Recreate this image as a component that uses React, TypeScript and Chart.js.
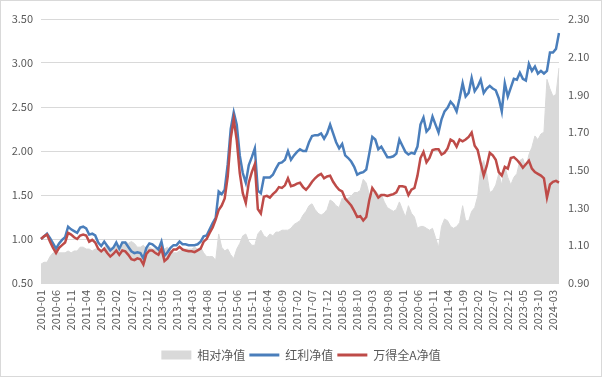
import React, { useEffect, useRef } from 'react';
import { Chart, registerables } from 'chart.js';

Chart.register(...registerables);

// Categories: monthly, 2010-01 .. 2024-05
const FIRST_YEAR = 2010;
const MONTH_COUNT = 173;
const months: string[] = [];
for (let i = 0; i < MONTH_COUNT; i++) {
  const y = FIRST_YEAR + Math.floor(i / 12);
  const m = (i % 12) + 1;
  months.push(`${y}-${m < 10 ? '0' + m : m}`);
}

const seriesNames = ['相对净值', '红利净值', '万得全A净值'];

// 红利净值 (left axis)
const dividendNav = [
  1.00, 1.03, 1.06, 1.01, 0.95, 0.89, 0.95, 0.99, 1.02, 1.14,
  1.11, 1.09, 1.07, 1.13, 1.14, 1.12, 1.05, 1.06, 1.04, 0.96,
  0.92, 0.97, 0.92, 0.87, 0.90, 0.96, 0.89, 0.96, 0.96, 0.91,
  0.86, 0.84, 0.85, 0.84, 0.78, 0.90, 0.95, 0.94, 0.91, 0.88,
  0.97, 0.81, 0.85, 0.90, 0.93, 0.93, 0.97, 0.94, 0.94, 0.93,
  0.93, 0.93, 0.94, 0.97, 1.03, 1.04, 1.11, 1.18, 1.24, 1.54,
  1.51, 1.56, 1.85, 2.25, 2.44, 2.30, 1.95, 1.75, 1.64, 1.84,
  1.93, 2.03, 1.55, 1.52, 1.70, 1.70, 1.70, 1.73, 1.80, 1.86,
  1.87, 1.90, 2.00, 1.90, 1.95, 1.99, 2.02, 2.00, 2.00, 2.10,
  2.17, 2.18, 2.18, 2.20, 2.14, 2.20, 2.30, 2.20, 2.10, 2.03,
  2.08, 1.95, 1.92, 1.88, 1.82, 1.73, 1.75, 1.76, 1.79, 1.97,
  2.16, 2.13, 2.02, 2.05, 1.99, 1.93, 1.93, 1.94, 1.97, 2.13,
  2.06, 1.99, 1.96, 1.98, 1.97, 2.05, 2.30, 2.38, 2.22, 2.26,
  2.39, 2.30, 2.21, 2.36, 2.45, 2.49, 2.56, 2.52, 2.45, 2.60,
  2.77, 2.62, 2.66, 2.83, 2.68, 2.73, 2.81, 2.66, 2.71, 2.74,
  2.71, 2.69, 2.60, 2.45, 2.77, 2.62, 2.72, 2.82, 2.81, 2.89,
  2.82, 2.80, 2.99, 2.91, 2.96, 2.88, 2.91, 2.88, 2.91, 3.12,
  3.12, 3.16, 3.34,
];

// 万得全A净值 (left axis)
const windANav = [
  1.00, 1.03, 1.05, 0.97, 0.90, 0.84, 0.90, 0.93, 0.96, 1.07,
  1.05, 1.02, 1.00, 1.04, 1.05, 1.04, 0.97, 0.99, 0.96, 0.89,
  0.86, 0.89, 0.84, 0.80, 0.83, 0.87, 0.82, 0.87, 0.86, 0.82,
  0.77, 0.76, 0.78, 0.77, 0.71, 0.83, 0.87, 0.87, 0.84, 0.82,
  0.89, 0.75, 0.78, 0.84, 0.88, 0.88, 0.91, 0.88, 0.87, 0.86,
  0.86, 0.85, 0.87, 0.89, 0.97, 1.00, 1.07, 1.13, 1.22, 1.33,
  1.38, 1.46, 1.71, 2.14, 2.36, 2.12, 1.75, 1.52, 1.41, 1.64,
  1.76, 1.85, 1.34, 1.29, 1.48, 1.49, 1.47, 1.51, 1.54, 1.59,
  1.58, 1.61, 1.69, 1.60, 1.61, 1.63, 1.64, 1.59, 1.56, 1.60,
  1.65, 1.69, 1.72, 1.74, 1.69, 1.71, 1.72, 1.65, 1.60, 1.56,
  1.54, 1.46, 1.42, 1.38, 1.32, 1.25, 1.26, 1.21, 1.25, 1.44,
  1.58, 1.53, 1.47, 1.50, 1.50, 1.49, 1.50, 1.51, 1.53, 1.60,
  1.60, 1.59, 1.50, 1.56, 1.58, 1.72, 1.92, 1.99, 1.87, 1.92,
  2.01, 2.02, 2.02, 1.96, 1.98, 2.03, 2.13, 2.11, 2.05, 2.13,
  2.11, 2.13, 2.16, 2.21, 2.06, 2.01, 1.86, 1.72, 1.83, 1.98,
  1.95, 1.90, 1.76, 1.72, 1.82, 1.80, 1.92, 1.93, 1.90, 1.86,
  1.81, 1.85, 1.89, 1.80, 1.76, 1.74, 1.72, 1.69, 1.47, 1.62,
  1.65, 1.66, 1.64,
];

// 相对净值 (right axis)
const relativeNav = [
  1.00, 1.01, 1.01, 1.04, 1.06, 1.06, 1.06, 1.06, 1.06, 1.07,
  1.06, 1.07, 1.07, 1.09, 1.09, 1.08, 1.08, 1.07, 1.08, 1.08,
  1.07, 1.09, 1.10, 1.09, 1.08, 1.10, 1.09, 1.10, 1.12, 1.11,
  1.12, 1.11, 1.09, 1.09, 1.10, 1.08, 1.09, 1.08, 1.08, 1.07,
  1.09, 1.08, 1.09, 1.07, 1.06, 1.06, 1.07, 1.07, 1.08, 1.08,
  1.08, 1.09, 1.08, 1.09, 1.06, 1.04, 1.04, 1.04, 1.02, 1.16,
  1.09, 1.07, 1.08, 1.05, 1.03, 1.08, 1.11, 1.15, 1.16, 1.12,
  1.10, 1.10, 1.16, 1.18, 1.15, 1.14, 1.16, 1.15, 1.17, 1.17,
  1.18, 1.18, 1.18, 1.19, 1.21, 1.22, 1.23, 1.26, 1.28, 1.31,
  1.32, 1.29, 1.27, 1.26, 1.27, 1.29, 1.34, 1.33, 1.31, 1.30,
  1.35, 1.34, 1.35, 1.36, 1.38, 1.38, 1.39, 1.45, 1.43, 1.37,
  1.37, 1.39, 1.37, 1.37, 1.33, 1.30, 1.29, 1.28, 1.29, 1.33,
  1.29, 1.25, 1.31, 1.27, 1.25, 1.19, 1.20, 1.20, 1.19, 1.18,
  1.19, 1.14, 1.09, 1.20, 1.24, 1.23, 1.20, 1.19, 1.20, 1.22,
  1.31, 1.23, 1.23, 1.28, 1.30, 1.36, 1.51, 1.55, 1.48, 1.38,
  1.39, 1.42, 1.48, 1.42, 1.52, 1.46, 1.42, 1.46, 1.48, 1.55,
  1.56, 1.51, 1.58, 1.62, 1.68, 1.66, 1.69, 1.70, 1.98, 1.93,
  1.89, 1.90, 2.04,
];

const FONT = '"Noto Sans CJK SC", "Noto Sans", sans-serif';
const TEXT_COLOR = '#595959';
const GRID_COLOR = '#d9d9d9';
const AREA_COLOR = '#d9d9d9';
const BLUE = '#4a7ebb';
const RED = '#be4b48';

export default function App() {
  const canvasRef = useRef<HTMLCanvasElement | null>(null);

  useEffect(() => {
    const canvas = canvasRef.current;
    if (!canvas) return;
    const chart = new Chart(canvas, {
      type: 'line',
      data: {
        labels: months,
        datasets: [
          {
            label: seriesNames[0],
            data: relativeNav,
            yAxisID: 'y1',
            fill: 'start',
            backgroundColor: AREA_COLOR,
            borderColor: AREA_COLOR,
            borderWidth: 1,
            pointRadius: 0,
            tension: 0,
            order: 3,
          },
          {
            label: seriesNames[1],
            data: dividendNav,
            yAxisID: 'y',
            fill: false,
            borderColor: BLUE,
            backgroundColor: BLUE,
            borderWidth: 2.5,
            pointRadius: 0,
            tension: 0,
            order: 2,
          },
          {
            label: seriesNames[2],
            data: windANav,
            yAxisID: 'y',
            fill: false,
            borderColor: RED,
            backgroundColor: RED,
            borderWidth: 2.5,
            pointRadius: 0,
            tension: 0,
            order: 1,
          },
        ],
      },
      options: {
        animation: false,
        responsive: false,
        devicePixelRatio: 1,
        layout: { padding: { top: 19, bottom: 6, left: 0, right: 0 } },
        plugins: {
          tooltip: { enabled: false },
          legend: {
            position: 'bottom',
            labels: {
              usePointStyle: true,
              pointStyleWidth: 30,
              boxHeight: 9,
              padding: 4,
              color: TEXT_COLOR,
              font: { family: FONT, size: 12 },
              sort: (a: any, b: any) => a.datasetIndex - b.datasetIndex,
              generateLabels: (c: any) =>
                c.data.datasets.map((ds: any, i: number) => ({
                  text: ds.label,
                  datasetIndex: i,
                  fillStyle: i === 0 ? AREA_COLOR : ds.borderColor,
                  strokeStyle: i === 0 ? AREA_COLOR : ds.borderColor,
                  lineWidth: i === 0 ? 0 : 3,
                  pointStyle: i === 0 ? 'rect' : 'line',
                  hidden: false,
                  fontColor: TEXT_COLOR,
                })),
            },
          },
        },
        scales: {
          x: {
            type: 'category',
            offset: false,
            grid: { display: false, drawTicks: false },
            border: { display: false },
            afterFit: (s: any) => {
              s.height = 62;
            },
            ticks: {
              autoSkip: false,
              minRotation: 90,
              maxRotation: 90,
              padding: 7,
              color: TEXT_COLOR,
              font: { family: FONT, size: 11 },
              callback: (_v: any, i: number) => (i % 5 === 0 ? months[i] : null),
            },
          },
          y: {
            type: 'linear',
            position: 'left',
            min: 0.5,
            max: 3.5,
            grid: { color: GRID_COLOR, lineWidth: 1, drawTicks: false },
            border: { display: false },
            afterFit: (s: any) => {
              s.width = 41;
            },
            ticks: {
              stepSize: 0.5,
              padding: 8,
              color: TEXT_COLOR,
              font: { family: FONT, size: 11 },
              callback: (v: any) => Number(v).toFixed(2),
            },
          },
          y1: {
            type: 'linear',
            position: 'right',
            min: 0.9,
            max: 2.3,
            grid: { display: false, drawTicks: false },
            border: { display: false },
            afterFit: (s: any) => {
              s.width = 43;
            },
            ticks: {
              stepSize: 0.2,
              padding: 9,
              color: TEXT_COLOR,
              font: { family: FONT, size: 11 },
              callback: (v: any) => Number(v).toFixed(2),
            },
          },
        },
      },
    });
    return () => chart.destroy();
  }, []);

  return (
    <div
      style={{
        position: 'fixed',
        left: 0,
        top: 0,
        width: 602,
        height: 377,
        background: '#ffffff',
      }}
    >
      <canvas
        ref={canvasRef}
        width={602}
        height={377}
        style={{ position: 'absolute', left: 0, top: 0, width: 602, height: 377 }}
      />
      <div
        style={{
          position: 'absolute',
          left: 0,
          top: 0,
          width: 602,
          height: 377,
          boxSizing: 'border-box',
          border: '1px solid #d9d9d9',
          pointerEvents: 'none',
        }}
      />
    </div>
  );
}
